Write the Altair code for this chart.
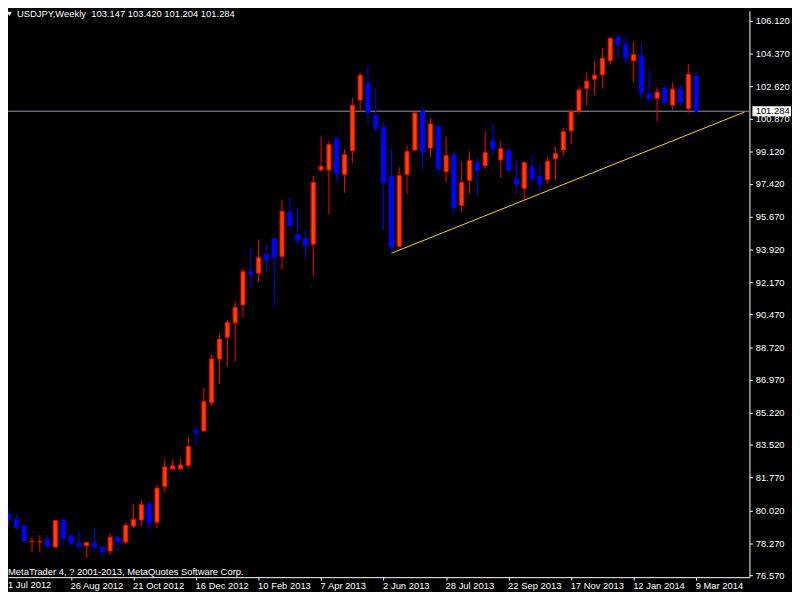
import altair as alt
import pandas as pd

FONT = "Liberation Sans, Arial, sans-serif"
FS = 9.5

# ---- data (weekly USDJPY candles, 1 Jul 2012 .. 9 Mar 2014) ----
date_labels = ["1 Jul 2012", "26 Aug 2012", "21 Oct 2012", "16 Dec 2012", "10 Feb 2013",
               "7 Apr 2013", "2 Jun 2013", "28 Jul 2013", "22 Sep 2013", "17 Nov 2013",
               "12 Jan 2014", "9 Mar 2014"]
weeks_per_label = 8

opens = [79.81, 79.53, 79.21, 78.36, 78.36, 78.47, 78.08, 79.49, 78.65, 78.28,
         78.14, 78.28, 78.07, 77.87, 78.60, 78.35, 79.19, 79.51, 80.38, 79.40,
         81.31, 82.24, 82.24, 82.42, 84.30, 84.26, 85.77, 88.09, 89.25, 90.02,
         90.97, 92.74, 92.66, 93.65, 94.50, 93.56, 95.91, 94.71, 94.50, 94.20,
         98.16, 98.16, 99.82, 97.92, 99.18, 101.88, 102.78, 101.05, 100.41, 97.81,
         94.09, 97.92, 99.22, 101.26, 99.32, 100.45, 98.07, 98.94, 96.28, 97.60,
         98.55, 98.39, 99.71, 98.69, 99.18, 97.67, 97.18, 98.30, 97.81, 97.63,
         98.76, 99.22, 100.24, 101.30, 102.49, 102.99, 103.23, 103.97, 105.22, 104.85,
         103.97, 104.22, 102.21, 101.98, 102.53, 101.61, 102.46, 101.43, 103.147]
highs = [80.02, 79.85, 79.23, 78.58, 78.70, 78.70, 79.50, 79.60, 78.75, 78.97,
         78.32, 79.12, 78.14, 78.81, 78.70, 79.37, 80.34, 80.60, 80.48, 81.40,
         82.77, 82.72, 82.77, 83.93, 84.57, 86.57, 88.37, 89.43, 90.17, 91.17,
         92.90, 94.02, 94.44, 94.18, 94.52, 96.56, 96.72, 96.14, 94.92, 97.83,
         99.94, 99.67, 99.89, 99.25, 102.00, 103.32, 103.74, 102.53, 100.72, 99.29,
         98.30, 99.46, 101.22, 101.52, 100.89, 100.63, 99.94, 99.15, 98.62, 99.15,
         98.81, 100.20, 100.63, 99.67, 99.36, 98.72, 98.57, 98.97, 98.44, 98.83,
         99.39, 100.41, 101.37, 102.62, 103.37, 103.97, 104.64, 105.24, 105.43, 105.31,
         104.96, 104.85, 103.41, 102.56, 102.67, 102.84, 102.67, 103.80, 103.420]
lows = [79.19, 78.98, 78.33, 77.82, 77.82, 78.03, 78.06, 78.17, 78.07, 77.93,
        77.49, 77.93, 77.49, 77.66, 77.82, 78.24, 79.09, 79.19, 78.98, 79.09,
        80.99, 82.14, 82.14, 82.24, 83.53, 84.21, 85.59, 86.75, 87.70, 87.96,
        90.29, 91.92, 92.19, 92.70, 90.87, 92.86, 95.04, 94.14, 93.46, 92.51,
        98.04, 95.78, 97.52, 96.94, 98.53, 101.22, 100.64, 100.17, 94.94, 93.72,
        94.05, 96.89, 99.15, 98.21, 98.85, 97.89, 97.52, 95.78, 95.89, 96.89,
        96.79, 98.21, 98.95, 97.74, 98.05, 96.89, 96.57, 97.52, 96.89, 97.42,
        97.60, 98.90, 99.53, 101.12, 101.58, 102.14, 102.49, 103.76, 104.08, 103.81,
        102.81, 101.96, 101.75, 100.73, 101.54, 101.37, 101.54, 101.17, 101.204]
closes = [79.56, 79.11, 78.40, 78.38, 78.38, 78.14, 79.48, 78.56, 78.28, 78.14,
          78.32, 78.07, 77.82, 78.60, 78.35, 79.23, 79.55, 80.34, 79.35, 81.22,
          82.35, 82.40, 82.44, 83.44, 84.16, 85.82, 88.09, 89.15, 90.04, 90.84,
          92.74, 92.61, 93.48, 93.35, 93.51, 95.96, 95.20, 94.41, 94.14, 97.49,
          98.34, 99.50, 97.95, 98.97, 101.58, 103.20, 101.22, 100.38, 97.49, 94.04,
          97.86, 99.13, 101.19, 99.11, 100.61, 98.23, 98.92, 96.15, 97.49, 98.66,
          98.13, 99.08, 99.31, 99.29, 98.16, 97.40, 98.55, 97.70, 97.39, 98.62,
          99.02, 100.19, 101.26, 102.41, 102.88, 103.20, 104.11, 105.17, 104.82, 104.13,
          104.31, 102.28, 101.96, 102.30, 101.75, 102.46, 101.75, 103.25, 101.284]

price_ticks = [106.12, 104.37, 102.62, 100.87, 99.12, 97.42, 95.67, 93.92, 92.17,
               90.47, 88.72, 86.97, 85.22, 83.52, 81.77, 80.02, 78.27, 76.57]
bid_price = 101.284
trend_weeks = [49, 94.19]
trend_prices = [93.72, 101.24]
header_text = "USDJPY,Weekly\u00a0 103.147 103.420 101.204 101.284"
footer_text = "MetaTrader 4, ? 2001-2013, MetaQuotes Software Corp."

# ---- tables ----
df = pd.DataFrame({"week": list(range(len(opens))), "open": opens, "high": highs,
                   "low": lows, "close": closes})
df["dir"] = ["up" if c >= o else "down" for o, c in zip(opens, closes)]
trend_df = pd.DataFrame({"week": trend_weeks, "price": trend_prices})
bid_df = pd.DataFrame({"price": [bid_price], "label": [f"{bid_price:.3f}"]})

# ---- scales & axes ----
xs = alt.Scale(domain=[0.5625, 94.1875], nice=False, zero=False)
ys = alt.Scale(domain=[76.471, 106.624], nice=False, zero=False)
label_expr = "[" + ",".join(f"'{t}'" for t in date_labels) + f"][round(datum.value/{weeks_per_label})]"
xaxis = alt.Axis(values=[weeks_per_label * k for k in range(1, len(date_labels))],
                 labelExpr=label_expr, title=None, tickSize=3, labelPadding=8,
                 labelAlign="left", labelBaseline="alphabetic", labelFlush=False,
                 labelOverlap=False, labelOffset=-1)
yaxis = alt.Axis(orient="right", values=price_ticks, format=".3f", title=None,
                 tickSize=3, labelPadding=3, labelAlign="left", labelBaseline="middle",
                 labelFlush=False, labelOverlap=False)

stroke_scale = alt.Scale(domain=["up", "down"], range=["#ff0000", "#0000ff"])
fill_scale = alt.Scale(domain=["up", "down"], range=["#ff4500", "#0000ff"])

X = alt.X("week:Q", scale=xs, axis=xaxis)

hline = alt.Chart(bid_df).mark_rule(color="#8c9aa8", strokeWidth=1).encode(
    y=alt.Y("price:Q", scale=ys, axis=yaxis))

trend = alt.Chart(trend_df).mark_line(color="#ffd700", strokeWidth=1, clip=True).encode(
    x=X, y=alt.Y("price:Q", scale=ys, axis=yaxis))

base = alt.Chart(df).encode(x=X)
wicks = base.mark_rule(strokeWidth=1, clip=True).encode(
    y=alt.Y("low:Q", scale=ys, axis=yaxis), y2="high:Q",
    color=alt.Color("dir:N", scale=stroke_scale, legend=None))
bodies = base.mark_bar(size=4, strokeWidth=1, clip=True).encode(
    y=alt.Y("open:Q", scale=ys, axis=yaxis), y2="close:Q",
    fill=alt.Fill("dir:N", scale=fill_scale, legend=None),
    stroke=alt.Stroke("dir:N", scale=stroke_scale, legend=None))

tag_box = alt.Chart(bid_df).mark_point(
    shape="M-1,-0.26L1,-0.26L1,0.26L-1,0.26Z", filled=True, fill="white",
    opacity=1, size=1521, strokeWidth=0).encode(
    x=alt.value(771.5), y=alt.Y("price:Q", scale=ys, axis=yaxis))
tag_text = alt.Chart(bid_df).mark_text(
    align="left", baseline="middle", color="black", font=FONT, fontSize=FS).encode(
    x=alt.value(755.3), y=alt.Y("price:Q", scale=ys, axis=yaxis), text="label:N")

header = alt.Chart(pd.DataFrame({"t": [header_text]})).mark_text(
    align="left", baseline="alphabetic", color="white", font=FONT, fontSize=FS).encode(
    x=alt.value(9), y=alt.value(5.7), text="t:N")
tri = alt.Chart(pd.DataFrame({"t": [""]})).mark_point(
    shape="triangle-down", filled=True, color="white", opacity=1, size=24).encode(
    x=alt.value(1.5), y=alt.value(3))
footer = alt.Chart(pd.DataFrame({"t": [footer_text]})).mark_text(
    align="left", baseline="alphabetic", color="white", font=FONT, fontSize=FS).encode(
    x=alt.value(0), y=alt.value(569.5), text="t:N")
first_date = alt.Chart(pd.DataFrame({"t": [date_labels[0]]})).mark_text(
    align="left", baseline="alphabetic", color="white", font=FONT, fontSize=FS).encode(
    x=alt.value(0), y=alt.value(583), text="t:N")

chart = alt.layer(hline, trend, wicks, bodies, tag_box, tag_text, header, tri, footer,
                  first_date).properties(
    width=749, height=572,
    padding={"left": 0, "top": 0, "right": 43, "bottom": 12},
    autosize=alt.AutoSizeParams(type="none"),
).configure(background="#000000", font=FONT).configure_view(
    fill="#000000", strokeWidth=0
).configure_axis(
    grid=False, domainColor="#ffffff", domainWidth=1, tickColor="#ffffff", tickWidth=1,
    labelColor="#ffffff", labelFont=FONT, labelFontSize=FS
)

chart.save("out.html", embed_options={"renderer": "svg", "actions": False})
